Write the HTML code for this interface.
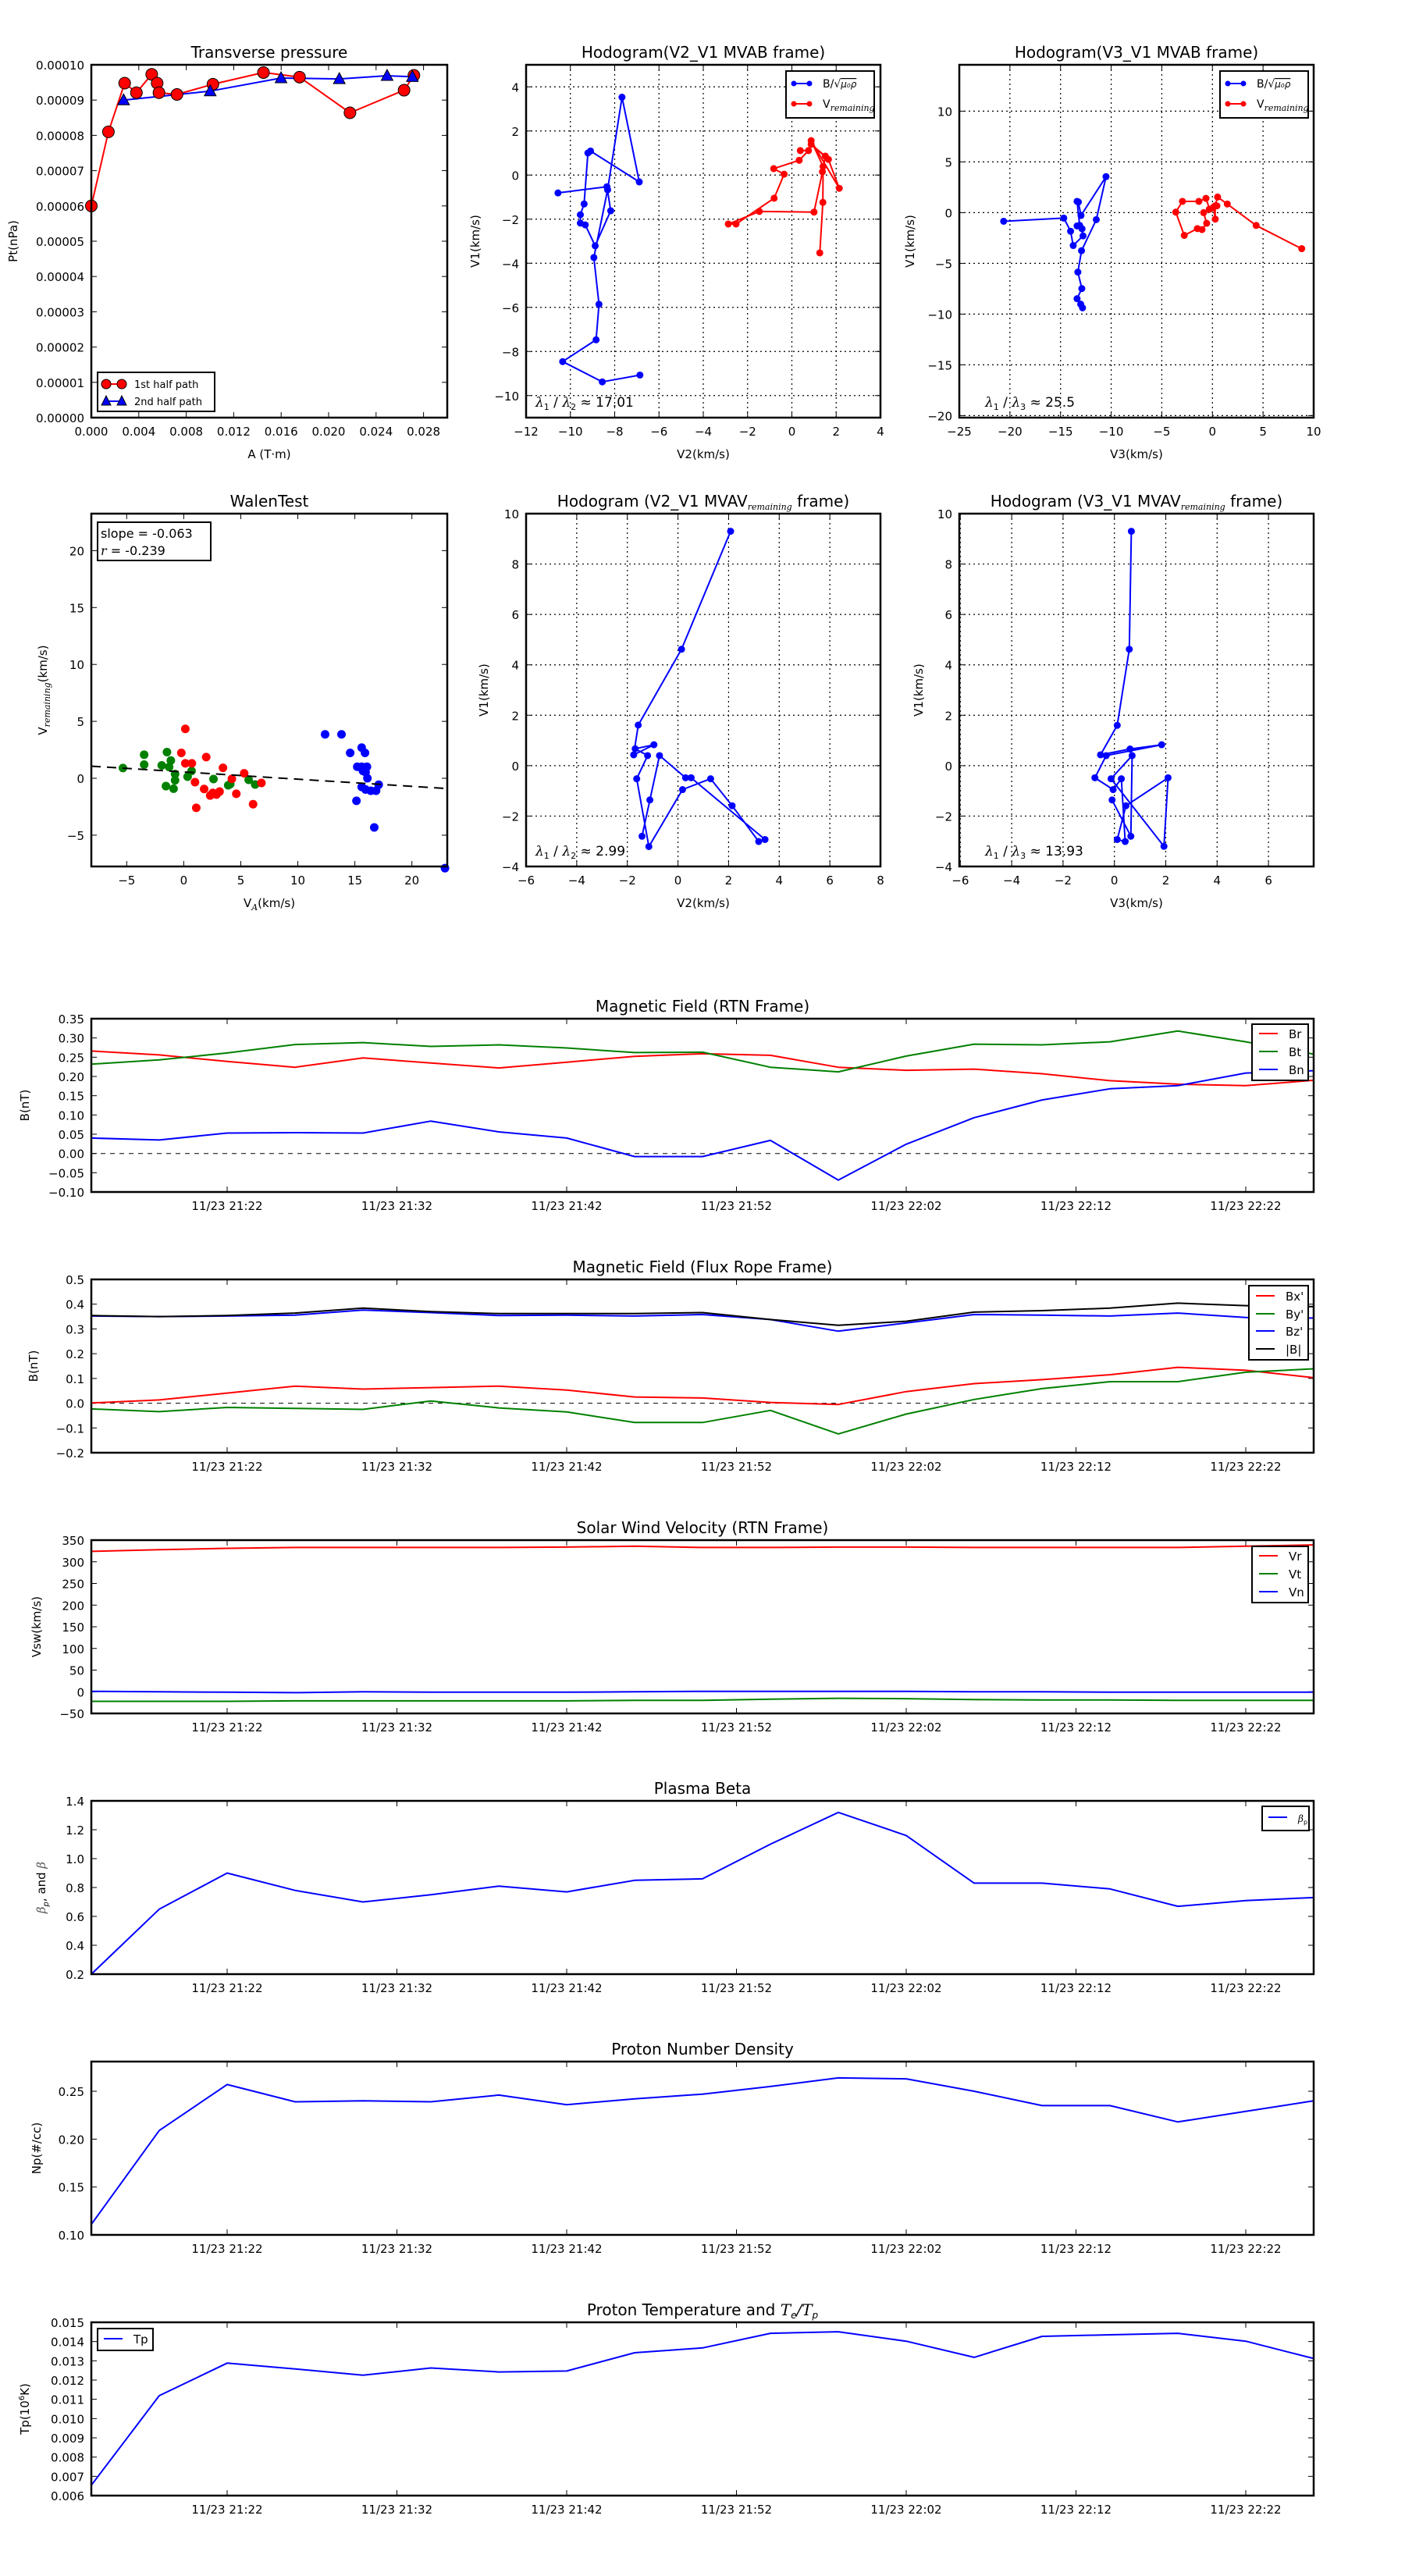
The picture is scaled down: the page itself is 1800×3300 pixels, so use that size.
<!DOCTYPE html>
<html><head><meta charset="utf-8">
<style>
html,body{margin:0;padding:0;background:#fff;}
svg{display:block;font-family:"DejaVu Sans","Liberation Sans",sans-serif;}
</style></head>
<body>
<svg id="fig" xmlns="http://www.w3.org/2000/svg" width="1800" height="3300" viewBox="0 0 1800 3300">
<rect x="0" y="0" width="1800" height="3300" fill="#fff"/>
</svg>
<script>
// ---------- Transverse pressure ----------
const ptRedA = [0,0.00144,0.00281,0.00380,0.00509,0.00555,0.00570,0.00722,0.01025,0.01451,0.01755,0.02180,0.02636,0.02719];
const ptRedP = [6.0e-5,8.1e-5,9.48e-5,9.21e-5,9.73e-5,9.48e-5,9.21e-5,9.16e-5,9.45e-5,9.78e-5,9.65e-5,8.64e-5,9.28e-5,9.70e-5];
const ptBlueA = [0.00272,0.01002,0.01599,0.02090,0.02493,0.02706];
const ptBlueP = [8.998e-5,9.254e-5,9.624e-5,9.60e-5,9.69e-5,9.66e-5];
const ptXTicks = [0,0.004,0.008,0.012,0.016,0.020,0.024,0.028];
const ptXLabels = ["0.000","0.004","0.008","0.012","0.016","0.020","0.024","0.028"];
const ptYTicks = [0,1e-5,2e-5,3e-5,4e-5,5e-5,6e-5,7e-5,8e-5,9e-5,1e-4];
const ptYLabels = ["0.00000","0.00001","0.00002","0.00003","0.00004","0.00005","0.00006","0.00007","0.00008","0.00009","0.00010"];
// ---------- Hodogram MVAB ----------
const h1BV2 = [-6.86,-8.56,-10.35,-8.84,-8.71,-8.94,-8.32,-7.67,-6.89,-9.09,-9.21,-9.38,-9.55,-9.55,-9.33,-8.88,-8.18,-8.35,-10.56];
const h1BV1 = [-9.07,-9.38,-8.46,-7.47,-5.86,-3.74,-0.67,3.53,-0.31,1.09,1.00,-1.31,-1.80,-2.18,-2.26,-3.21,-1.62,-0.53,-0.81];
const h1VV2 = [1.26,1.40,1.41,0.87,2.14,1.65,0.87,1.51,1.38,1.00,-1.47,-2.87,-2.52,-0.80,-0.35,-0.82,0.33,0.75,0.38];
const h1VV1 = [-3.53,-1.24,0.39,1.56,-0.60,0.71,1.39,0.86,0.15,-1.68,-1.65,-2.22,-2.22,-1.05,0.04,0.29,0.67,1.11,1.11];
const h1XTicks = [-12,-10,-8,-6,-4,-2,0,2,4];
const h1YTicks = [-10,-8,-6,-4,-2,0,2,4];
const h2BV3 = [-20.62,-14.68,-14.01,-13.75,-12.78,-12.88,-13.37,-13.11,-13.37,-13.24,-12.98,-10.51,-11.47,-12.93,-13.29,-12.90,-13.37,-13.01,-12.83];
const h2BV1 = [-0.85,-0.54,-1.83,-3.24,-2.29,-1.59,-1.31,-1.26,1.11,1.05,-0.28,3.55,-0.69,-3.75,-5.86,-7.48,-8.48,-9.02,-9.38];
const h2VV3 = [8.82,4.32,1.47,0.51,0.26,0.28,0.10,-0.28,-0.64,-1.34,-2.96,-3.62,-2.78,-1.49,-1.03,-0.57,-0.87,-0.31,0.44];
const h2VV1 = [-3.55,-1.26,0.85,1.54,0.67,-0.64,0.54,0.33,1.41,1.11,1.11,0.05,-2.24,-1.57,-1.67,-1.05,0,0.33,0.67];
const h2XTicks = [-25,-20,-15,-10,-5,0,5,10];
const h2YTicks = [-20,-15,-10,-5,0,5,10];
// ---------- Walen test ----------
const walenGreenX = [-5.33,-3.47,-3.47,-1.93,-1.47,-1.13,-1.28,-1.56,-0.89,-0.76,-0.76,0.34,0.69,2.61,3.90,4.08,5.69,6.26];
const walenGreenY = [0.90,2.07,1.20,1.13,2.30,1.56,0.99,-0.69,-0.92,-0.18,0.37,0.14,0.64,-0.07,-0.62,-0.51,-0.14,-0.55];
const walenRedX = [0.14,-0.21,0.14,0.71,1.97,0.99,1.79,2.32,2.55,2.87,3.14,3.44,4.22,4.61,5.30,6.08,6.81,1.10];
const walenRedY = [4.34,2.23,1.31,1.31,1.86,-0.34,-0.94,-1.52,-1.29,-1.43,-1.17,0.92,-0.05,-1.36,0.44,-2.28,-0.41,-2.60];
const walenBlueX = [12.39,13.83,14.59,15.60,15.89,15.21,15.60,16.06,15.71,15.94,16.10,15.60,15.94,16.40,16.86,17.09,15.14,16.70,22.9];
const walenBlueY = [3.86,3.86,2.23,2.69,2.23,1.01,1.01,1.01,0.64,0.53,0.00,-0.76,-0.99,-1.10,-1.10,-0.57,-1.98,-4.32,-7.9];
const walenSlope = [-0.063];
const walenIntercept = [0.55];
const walenXTicks = [-5,0,5,10,15,20];
const walenYTicks = [-5,0,5,10,15,20];
// ---------- Hodogram MVAV ----------
const h3V2 = [2.08,0.14,-1.57,-1.75,-0.95,-1.69,-1.20,-1.63,-1.15,0.18,1.29,2.14,3.19,3.44,0.52,0.30,-0.73,-1.11,-1.42];
const h3V1 = [9.30,4.62,1.61,0.43,0.83,0.67,0.40,-0.52,-3.21,-0.95,-0.52,-1.59,-3.01,-2.93,-0.48,-0.48,0.40,-1.36,-2.80];
const h4V3 = [0.66,0.58,0.11,-0.54,0.61,1.84,-0.32,-0.76,-0.05,0.27,0.42,0.11,0.45,2.09,1.93,-0.13,0.69,0.64,-0.09];
const h4V1 = [9.30,4.62,1.60,0.43,0.66,0.83,0.40,-0.48,-0.95,-0.52,-3.01,-2.93,-1.59,-0.48,-3.20,-0.52,0.40,-2.80,-1.36];
const h3XTicks = [-6,-4,-2,0,2,4,6,8];
const h3YTicks = [-4,-2,0,2,4,6,8,10];
// ---------- Time series ----------
const timeMin = [0,4,8,12,16,20,24,28,32,36,40,44,48,52,56,60,64,68,72];
const timeTicks = [8,18,28,38,48,58,68];
const timeLabels = ["11/23 21:22","11/23 21:32","11/23 21:42","11/23 21:52","11/23 22:02","11/23 22:12","11/23 22:22"];
const br = [0.266,0.256,0.239,0.224,0.248,0.235,0.222,0.237,0.252,0.259,0.255,0.224,0.216,0.219,0.207,0.189,0.180,0.176,0.190];
const bt = [0.232,0.243,0.261,0.283,0.288,0.278,0.282,0.274,0.262,0.263,0.224,0.212,0.253,0.284,0.282,0.290,0.318,0.290,0.258];
const bn = [0.040,0.035,0.053,0.054,0.053,0.084,0.056,0.040,-0.008,-0.008,0.034,-0.069,0.024,0.093,0.139,0.168,0.176,0.209,0.215];
const bxp = [0.001,0.013,0.041,0.069,0.057,0.063,0.069,0.053,0.025,0.021,0.003,-0.005,0.047,0.079,0.095,0.115,0.145,0.133,0.103];
const byp = [-0.023,-0.034,-0.017,-0.021,-0.025,0.009,-0.019,-0.035,-0.078,-0.078,-0.029,-0.124,-0.044,0.015,0.059,0.087,0.087,0.125,0.139];
const bzp = [0.352,0.350,0.352,0.356,0.376,0.366,0.354,0.356,0.352,0.358,0.338,0.291,0.324,0.358,0.356,0.352,0.364,0.346,0.344];
const bmag = [0.354,0.350,0.354,0.364,0.384,0.370,0.362,0.362,0.362,0.366,0.338,0.315,0.331,0.368,0.374,0.384,0.404,0.394,0.390];
const vr = [324,328,331,333,333,333,333,334,336,333,333,334,334,333,333,333,333,336,339];
const vt = [-22,-22,-22,-21,-21,-21,-21,-21,-20,-20,-17,-15,-16,-18,-19,-19,-20,-20,-20];
const vn = [1,0,-1,-2,0,-1,-1,-1,0,1,1,1,1,0,0,-1,-1,-1,-1];
const betaP = [0.20,0.65,0.90,0.78,0.70,0.75,0.81,0.77,0.85,0.86,1.10,1.32,1.16,0.83,0.83,0.79,0.67,0.71,0.73];
const np = [0.111,0.209,0.257,0.239,0.240,0.239,0.246,0.236,0.242,0.247,0.255,0.264,0.263,0.250,0.235,0.235,0.218,0.229,0.240];
const tp = [0.00654,0.01119,0.01288,0.01258,0.01225,0.01263,0.01242,0.01247,0.01342,0.01367,0.01443,0.01451,0.01402,0.01318,0.01427,0.01435,0.01443,0.01402,0.01312];

const NS = 'http://www.w3.org/2000/svg';
const svg = document.getElementById('fig');
function mk(tag, attrs, parent){
  const e = document.createElementNS(NS, tag);
  for (const k in attrs) e.setAttribute(k, attrs[k]);
  (parent || svg).appendChild(e);
  return e;
}
function fmtMinus(s){ return String(s).replace('-', '\u2212'); }

function axes(c){
  const g = mk('g', {});
  
  
  const sx = v => c.x + (v - c.xmin) / (c.xmax - c.xmin) * c.w;
  const sy = v => c.y + c.h - (v - c.ymin) / (c.ymax - c.ymin) * c.h;
  if (c.grid){
    c.xticks.forEach(v => { const X = sx(v); if (X > c.x+1 && X < c.x+c.w-1) {
      const l = mk('line', {x1:X, x2:X, y1:c.y, y2:c.y+c.h, stroke:'#000', 'stroke-width':1.2, 'stroke-dasharray':'2,4'}, g);
      
      
    }});
    c.yticks.forEach(v => { const Y = sy(v); if (Y > c.y+1 && Y < c.y+c.h-1) {
      const l = mk('line', {x1:c.x, x2:c.x+c.w, y1:Y, y2:Y, stroke:'#000', 'stroke-width':1.2, 'stroke-dasharray':'2,4'}, g);
      
      
    }});
  }
  c.xticks.forEach((v, i) => {
    const X = sx(v);
    mk('line', {x1:X, x2:X, y1:c.y+c.h, y2:c.y+c.h-7, stroke:'#000', 'stroke-width':1}, g);
    mk('line', {x1:X, x2:X, y1:c.y, y2:c.y+7, stroke:'#000', 'stroke-width':1}, g);
    const t = mk('text', {x:X, y:c.y+c.h+23, 'text-anchor':'middle', 'font-size':15}, g);
    
    
    t.textContent = c.xlabels ? c.xlabels[i] : fmtMinus(v);
  });
  c.yticks.forEach((v, i) => {
    const Y = sy(v);
    mk('line', {x1:c.x, x2:c.x+7, y1:Y, y2:Y, stroke:'#000', 'stroke-width':1}, g);
    mk('line', {x1:c.x+c.w, x2:c.x+c.w-7, y1:Y, y2:Y, stroke:'#000', 'stroke-width':1}, g);
    const t = mk('text', {x:c.x-9, y:Y+6, 'text-anchor':'end', 'font-size':15}, g);
    
    
    t.textContent = c.ylabels ? c.ylabels[i] : fmtMinus(v);
  });
  const ti = mk('text', {x:c.x+c.w/2, y:c.y-9, 'text-anchor':'middle', 'font-size':20}, g);
  
  
  ti.innerHTML = c.title;
  if (c.xtitle){
    const xt = mk('text', {x:c.x+c.w/2, y:c.xty, 'text-anchor':'middle', 'font-size':15}, g);
    
    
    xt.innerHTML = c.xtitle;
  }
  const yt = mk('text', {x:c.ytx, y:c.y+c.h/2, 'text-anchor':'middle', 'font-size':15, transform:`rotate(-90 ${c.ytx} ${c.y+c.h/2})`}, g);
  
  
  yt.innerHTML = c.ytitle;
  return {sx, sy, g, c};
}
function frame(ax){
  const c = ax.c;
  const r = mk('rect', {x:c.x, y:c.y, width:c.w, height:c.h, fill:'none', stroke:'#000', 'stroke-width':2.5}, ax.g);
  
  
}
function line(ax, xs, ys, color, name, dash){
  const pts = xs.map((x, i) => ax.sx(x).toFixed(1) + ',' + ax.sy(ys[i]).toFixed(1)).join(' ');
  const p = mk('polyline', {points:pts, fill:'none', stroke:color, 'stroke-width':2, 'stroke-linejoin':'round'}, ax.g);
  if (dash) p.setAttribute('stroke-dasharray', dash);
  
  
}
function dots(ax, xs, ys, color, r, name, edge){
  xs.forEach((x, i) => {
    const d = mk('circle', {cx:ax.sx(x), cy:ax.sy(ys[i]), r:r, fill:color, stroke:edge||'none', 'stroke-width':1}, ax.g);
    
    
  });
}
function tris(ax, xs, ys, color, name){
  xs.forEach((x, i) => {
    const X = ax.sx(x), Y = ax.sy(ys[i]);
    const t = mk('polygon', {points:`${X},${Y-8} ${X-7.5},${Y+6} ${X+7.5},${Y+6}`, fill:color, stroke:'#000', 'stroke-width':1}, ax.g);
    
    
  });
}
function legendBox(g, x, y, w, h){
  const r = mk('rect', {x, y, width:w, height:h, fill:'#fff', stroke:'#000', 'stroke-width':2}, g);
  
  
}
function legLine(g, x, y, color, label, name, size){
  mk('line', {x1:x, x2:x+24, y1:y, y2:y, stroke:color, 'stroke-width':2}, g);
  const t = mk('text', {x:x+38, y:y+6, 'font-size':size||15}, g);
  
  
  t.innerHTML = label;
}
const SUB = s => `<tspan font-size="11" font-style="italic" font-family="DejaVu Serif" baseline-shift="-4">${s}</tspan>`;

// ===== Row 1 =====
const axP = axes({name:'transverse-pressure-chart', x:117, y:83, w:456, h:452, xmin:0, xmax:0.03, ymin:0, ymax:0.0001,
  xticks:ptXTicks, xlabels:ptXLabels, yticks:ptYTicks, ylabels:ptYLabels, title:'Transverse pressure',
  xtitle:'A (T·m)', xty:587, ytitle:'Pt(nPa)', ytx:22});
line(axP, ptRedA, ptRedP, '#f00', 'first-half-path-line');
line(axP, ptBlueA, ptBlueP, '#00f', 'second-half-path-line');
dots(axP, ptRedA, ptRedP, '#f00', 7.5, 'first-half-point', '#000');
tris(axP, ptBlueA, ptBlueP, '#00f', 'second-half-point');
frame(axP);
legendBox(axP.g, 125, 477, 150, 50);
mk('line', {x1:136, x2:156, y1:492, y2:492, stroke:'#f00', 'stroke-width':2}, axP.g);
mk('circle', {cx:136, cy:492, r:6, fill:'#f00', stroke:'#000'}, axP.g);
mk('circle', {cx:156, cy:492, r:6, fill:'#f00', stroke:'#000'}, axP.g);
mk('line', {x1:136, x2:156, y1:514, y2:514, stroke:'#00f', 'stroke-width':2}, axP.g);
mk('polygon', {points:'136,507 130,519 142,519', fill:'#00f', stroke:'#000'}, axP.g);
mk('polygon', {points:'156,507 150,519 162,519', fill:'#00f', stroke:'#000'}, axP.g);
let lt = mk('text', {x:172, y:497, 'font-size':13}, axP.g);


lt.textContent = '1st half path';
lt = mk('text', {x:172, y:519, 'font-size':13}, axP.g);


lt.textContent = '2nd half path';

function hodoLegend(g, x){
  legendBox(g, x, 91, 113, 60);
  [[107, '#00f', 'B/√<tspan text-decoration="overline" font-style="italic" font-size="12">μ₀ρ</tspan>', 'legend-entry-b'],
   [133, '#f00', 'V'+SUB('remaining'), 'legend-entry-v']].forEach(e => {
    mk('line', {x1:x+10, x2:x+30, y1:e[0], y2:e[0], stroke:e[1], 'stroke-width':2}, g);
    mk('circle', {cx:x+10, cy:e[0], r:3.5, fill:e[1]}, g);
    mk('circle', {cx:x+30, cy:e[0], r:3.5, fill:e[1]}, g);
    const t = mk('text', {x:x+47, y:e[0]+5, 'font-size':14}, g);
    
    
    t.innerHTML = e[2];
  });
}
function lamText(g, x, y, txt, name){
  const t = mk('text', {x, y, 'font-size':17}, g);
  
  
  t.innerHTML = txt;
}
const LAM = (a, b, v) => `<tspan font-family="DejaVu Serif" font-style="italic">λ</tspan><tspan font-size="11" baseline-shift="-4">${a}</tspan> / <tspan font-family="DejaVu Serif" font-style="italic">λ</tspan><tspan font-size="11" baseline-shift="-4">${b}</tspan> ≈ ${v}`;

const axH1 = axes({name:'hodogram-v2-v1-mvab-chart', x:674, y:83, w:454, h:452, xmin:-12, xmax:4, ymin:-11, ymax:5, grid:true,
  xticks:h1XTicks, yticks:h1YTicks, title:'Hodogram(V2_V1 MVAB frame)', xtitle:'V2(km/s)', xty:587, ytitle:'V1(km/s)', ytx:614});
line(axH1, h1BV2, h1BV1, '#00f', 'b-alfven-path');
dots(axH1, h1BV2, h1BV1, '#00f', 4.5, 'b-alfven-point');
line(axH1, h1VV2, h1VV1, '#f00', 'v-remaining-path');
dots(axH1, h1VV2, h1VV1, '#f00', 4.5, 'v-remaining-point');
frame(axH1);
hodoLegend(axH1.g, 1007);
lamText(axH1.g, 686, 521, LAM('1','2','17.01'), 'eigenvalue-ratio');

const axH2 = axes({name:'hodogram-v3-v1-mvab-chart', x:1229, y:83, w:454, h:452, xmin:-25, xmax:10, ymin:-20.2, ymax:14.57, grid:true,
  xticks:h2XTicks, yticks:h2YTicks, title:'Hodogram(V3_V1 MVAB frame)', xtitle:'V3(km/s)', xty:587, ytitle:'V1(km/s)', ytx:1171});
line(axH2, h2BV3, h2BV1, '#00f', 'b-alfven-path');
dots(axH2, h2BV3, h2BV1, '#00f', 4.5, 'b-alfven-point');
line(axH2, h2VV3, h2VV1, '#f00', 'v-remaining-path');
dots(axH2, h2VV3, h2VV1, '#f00', 4.5, 'v-remaining-point');
frame(axH2);
hodoLegend(axH2.g, 1563);
lamText(axH2.g, 1262, 521, LAM('1','3','25.5'), 'eigenvalue-ratio');

// ===== Row 2 =====
const axW = axes({name:'walen-test-chart', x:117, y:658, w:456, h:452, xmin:-8.1, xmax:23.1, ymin:-7.75, ymax:23.25,
  xticks:walenXTicks, yticks:walenYTicks, title:'WalenTest', xtitle:'V'+SUB('A')+'(km/s)', xty:1162,
  ytitle:'V'+SUB('remaining')+'(km/s)', ytx:60});
dots(axW, walenGreenX, walenGreenY, '#008000', 5.5, 'walen-point-green');
dots(axW, walenRedX, walenRedY, '#f00', 5.5, 'walen-point-red');
dots(axW, walenBlueX, walenBlueY, '#00f', 5.5, 'walen-point-blue');
const fitX = [-8.1, 23.1];
line(axW, fitX, fitX.map(x => walenSlope[0]*x + walenIntercept[0]), '#000', 'fit-line', '12,8');
frame(axW);
legendBox(axW.g, 125, 669, 145, 49);
lt = mk('text', {x:129, y:689, 'font-size':16}, axW.g);


lt.textContent = 'slope = -0.063';
lt = mk('text', {x:129, y:711, 'font-size':16}, axW.g);


lt.innerHTML = '<tspan font-family="DejaVu Serif" font-style="italic">r</tspan> = -0.239';

const axH3 = axes({name:'hodogram-v2-v1-mvav-chart', x:674, y:658, w:454, h:452, xmin:-6, xmax:8, ymin:-4, ymax:10, grid:true,
  xticks:h3XTicks, yticks:h3YTicks, title:'Hodogram (V2_V1 MVAV'+SUB('remaining')+' frame)', xtitle:'V2(km/s)', xty:1162, ytitle:'V1(km/s)', ytx:625});
line(axH3, h3V2, h3V1, '#00f', 'b-alfven-path');
dots(axH3, h3V2, h3V1, '#00f', 4.5, 'b-alfven-point');
frame(axH3);
lamText(axH3.g, 686, 1096, LAM('1','2','2.99'), 'eigenvalue-ratio');

const axH4 = axes({name:'hodogram-v3-v1-mvav-chart', x:1229, y:658, w:454, h:452, xmin:-6.04, xmax:7.76, ymin:-4, ymax:10, grid:true,
  xticks:[-6,-4,-2,0,2,4,6], yticks:h3YTicks, title:'Hodogram (V3_V1 MVAV'+SUB('remaining')+' frame)', xtitle:'V3(km/s)', xty:1162, ytitle:'V1(km/s)', ytx:1182});
line(axH4, h4V3, h4V1, '#00f', 'b-alfven-path');
dots(axH4, h4V3, h4V1, '#00f', 4.5, 'b-alfven-point');
frame(axH4);
lamText(axH4.g, 1262, 1096, LAM('1','3','13.93'), 'eigenvalue-ratio');

// ===== Time series =====
function tsAxes(name, top, ymin, ymax, yticks, ylabels, title, ytitle, ytx){
  return axes({name, x:117, y:top, w:1566, h:222, xmin:0, xmax:72, ymin, ymax,
    xticks:timeTicks, xlabels:timeLabels, yticks, ylabels, title, ytitle, ytx});
}
function zeroLine(ax){
  line(ax, [0,72], [0,0], '#000', 'zero-line', '6,6');
  ax.g.lastChild.setAttribute('stroke-width', 1);
}
const ax1 = tsAxes('magnetic-field-rtn-chart', 1305, -0.10, 0.35, [-0.10,-0.05,0,0.05,0.10,0.15,0.20,0.25,0.30,0.35],
  ['\u22120.10','\u22120.05','0.00','0.05','0.10','0.15','0.20','0.25','0.30','0.35'], 'Magnetic Field (RTN Frame)', 'B(nT)', 37);
zeroLine(ax1);
line(ax1, timeMin, br, '#f00', 'br-line');
line(ax1, timeMin, bt, '#008000', 'bt-line');
line(ax1, timeMin, bn, '#00f', 'bn-line');
frame(ax1);
legendBox(ax1.g, 1604, 1312, 72, 72);
legLine(ax1.g, 1613, 1324, '#f00', 'Br', 'legend-entry-br');
legLine(ax1.g, 1613, 1347, '#008000', 'Bt', 'legend-entry-bt');
legLine(ax1.g, 1613, 1370, '#00f', 'Bn', 'legend-entry-bn');

const ax2 = tsAxes('magnetic-field-flux-rope-chart', 1639, -0.2, 0.5, [-0.2,-0.1,0,0.1,0.2,0.3,0.4,0.5],
  ['\u22120.2','\u22120.1','0.0','0.1','0.2','0.3','0.4','0.5'], 'Magnetic Field (Flux Rope Frame)', 'B(nT)', 48);
zeroLine(ax2);
line(ax2, timeMin, bxp, '#f00', 'bx-prime-line');
line(ax2, timeMin, byp, '#008000', 'by-prime-line');
line(ax2, timeMin, bzp, '#00f', 'bz-prime-line');
line(ax2, timeMin, bmag, '#000', 'b-magnitude-line');
frame(ax2);
legendBox(ax2.g, 1600, 1647, 76, 95);
legLine(ax2.g, 1609, 1660, '#f00', "Bx'", 'legend-entry-bx');
legLine(ax2.g, 1609, 1683, '#008000', "By'", 'legend-entry-by');
legLine(ax2.g, 1609, 1705, '#00f', "Bz'", 'legend-entry-bz');
legLine(ax2.g, 1609, 1728, '#000', '|B|', 'legend-entry-bmag');

const ax3 = tsAxes('solar-wind-velocity-chart', 1973, -50, 350, [-50,0,50,100,150,200,250,300,350],
  ['\u221250','0','50','100','150','200','250','300','350'], 'Solar Wind Velocity (RTN Frame)', 'Vsw(km/s)', 52);
line(ax3, timeMin, vr, '#f00', 'vr-line');
line(ax3, timeMin, vt, '#008000', 'vt-line');
line(ax3, timeMin, vn, '#00f', 'vn-line');
frame(ax3);
legendBox(ax3.g, 1604, 1981, 72, 72);
legLine(ax3.g, 1613, 1993, '#f00', 'Vr', 'legend-entry-vr');
legLine(ax3.g, 1613, 2016, '#008000', 'Vt', 'legend-entry-vt');
legLine(ax3.g, 1613, 2039, '#00f', 'Vn', 'legend-entry-vn');

const ax4 = tsAxes('plasma-beta-chart', 2307, 0.2, 1.4, [0.2,0.4,0.6,0.8,1.0,1.2,1.4],
  ['0.2','0.4','0.6','0.8','1.0','1.2','1.4'], 'Plasma Beta',
  '<tspan font-family="DejaVu Serif" font-style="italic" fill="#555">β</tspan><tspan font-size="10" font-style="italic" baseline-shift="-4">p</tspan>, and <tspan font-family="DejaVu Serif" font-style="italic" fill="#555">β</tspan>', 58);
line(ax4, timeMin, betaP, '#00f', 'beta-p-line');
frame(ax4);
legendBox(ax4.g, 1617, 2314, 60, 31);
legLine(ax4.g, 1625, 2328, '#00f', '<tspan font-family="DejaVu Serif" font-style="italic" font-size="12">β</tspan><tspan font-size="8" baseline-shift="-3">p</tspan>', 'legend-entry-beta-p');

const ax5 = tsAxes('proton-density-chart', 2641, 0.10, 0.281, [0.10,0.15,0.20,0.25],
  ['0.10','0.15','0.20','0.25'], 'Proton Number Density', 'Np(#/cc)', 52);
line(ax5, timeMin, np, '#00f', 'np-line');
frame(ax5);

const ax6 = tsAxes('proton-temperature-chart', 2975, 0.006, 0.015,
  [0.006,0.007,0.008,0.009,0.010,0.011,0.012,0.013,0.014,0.015],
  ['0.006','0.007','0.008','0.009','0.010','0.011','0.012','0.013','0.014','0.015'],
  'Proton Temperature and <tspan font-family="DejaVu Serif" font-style="italic">T</tspan><tspan font-size="12" font-style="italic" baseline-shift="-4">e</tspan><tspan font-family="DejaVu Serif" font-style="italic">/T</tspan><tspan font-size="12" font-style="italic" baseline-shift="-4">p</tspan>',
  'Tp(10<tspan font-size="10" baseline-shift="6">6</tspan>K)', 37);
line(ax6, timeMin, tp, '#00f', 'tp-line');
frame(ax6);
legendBox(ax6.g, 125, 2983, 71, 28);
legLine(ax6.g, 133, 2996, '#00f', 'Tp', 'legend-entry-tp');
</script>
</body></html>
